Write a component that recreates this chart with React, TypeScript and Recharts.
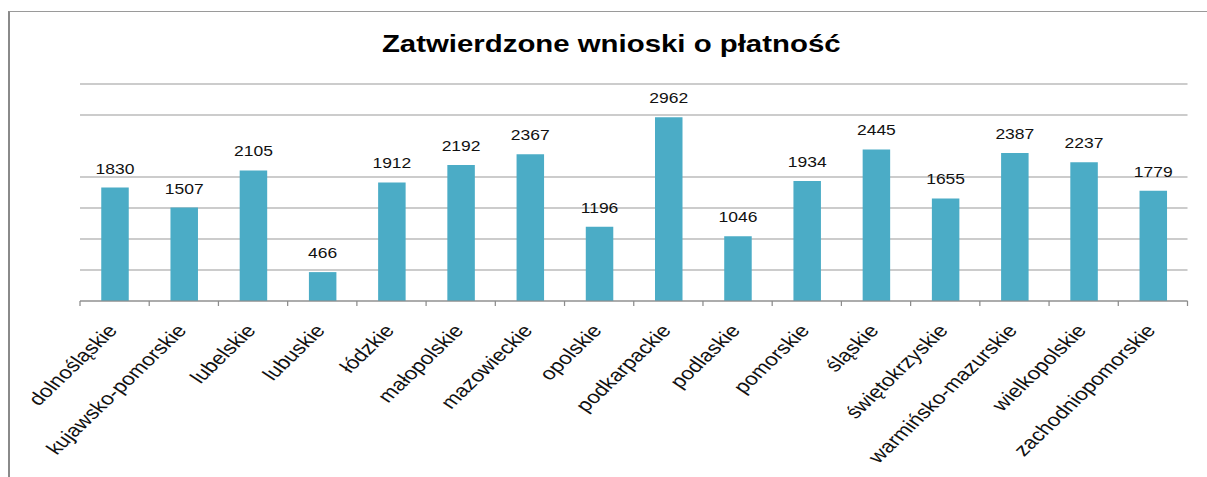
import React from 'react';
import { BarChart, Bar, XAxis, YAxis, CartesianGrid, LabelList } from 'recharts';

const REGIONS = [
  'dolnośląskie',
  'kujawsko-pomorskie',
  'lubelskie',
  'lubuskie',
  'łódzkie',
  'małopolskie',
  'mazowieckie',
  'opolskie',
  'podkarpackie',
  'podlaskie',
  'pomorskie',
  'śląskie',
  'świętokrzyskie',
  'warmińsko-mazurskie',
  'wielkopolskie',
  'zachodniopomorskie',
];

const APPROVED = [1830, 1507, 2105, 466, 1912, 2192, 2367, 1196, 2962, 1046, 1934, 2445, 1655, 2387, 2237, 1779];

// the 2500 line is missing in the source picture
const Y_TICKS = [0, 500, 1000, 1500, 2000, 3000, 3500];

const data = REGIONS.map((name, i) => ({ name, value: APPROVED[i] }));

// the source picture is stretched horizontally, so the chart is drawn narrow and scaled
const STRETCH = 1.25;
const W = 966;
const H = 477;
const M = { top: 84, right: 16, left: 64, bottom: 0 };
const HALF_BAND = (W - M.left - M.right) / REGIONS.length / 2;
const FONT = '"Liberation Sans", Arial, sans-serif';

const RegionTick = (props: any) => {
  const { x, y, payload, index } = props;
  const ax = x + 3;
  const ay = y + 30;
  return (
    <g>
      <line x1={x - HALF_BAND} y1={y} x2={x - HALF_BAND} y2={y + 5} stroke="#8c8c8c" />
      {index === REGIONS.length - 1 && (
        <line x1={x + HALF_BAND} y1={y} x2={x + HALF_BAND} y2={y + 5} stroke="#8c8c8c" />
      )}
      <text
        x={ax}
        y={ay}
        transform={`rotate(-50, ${ax}, ${ay})`}
        textAnchor="end"
        fontSize={18}
        fontFamily={FONT}
        fill="#111"
      >
        {payload.value}
      </text>
    </g>
  );
};

const App: React.FC = () => {
  return (
    <div>
      <div
        style={{
          position: 'fixed',
          left: 0,
          top: 0,
          width: W,
          height: H,
          transform: `scaleX(${STRETCH})`,
          transformOrigin: '0 0',
          background: '#fff',
        }}
      >
        <div
          style={{
            position: 'absolute',
            left: 0,
            top: 32,
            width: 978,
            textAlign: 'center',
            fontFamily: FONT,
            fontWeight: 'bold',
            fontSize: 23.5,
            lineHeight: '24px',
            color: '#000',
          }}
        >
          Zatwierdzone wnioski o płatność
        </div>
        <BarChart width={W} height={H} data={data} margin={M} barSize={22}>
          <CartesianGrid vertical={false} stroke="#999" />
          <YAxis hide domain={[0, 3500]} ticks={Y_TICKS} />
          <XAxis
            dataKey="name"
            interval={0}
            height={176}
            tickLine={false}
            tickSize={0}
            tickMargin={0}
            axisLine={{ stroke: '#8c8c8c' }}
            tick={<RegionTick />}
          />
          <Bar dataKey="value" fill="#4BACC6" isAnimationActive={false}>
            <LabelList
              dataKey="value"
              position="top"
              offset={14}
              fontSize={14}
              fontFamily={FONT}
              fill="#111"
            />
          </Bar>
        </BarChart>
      </div>
      <div
        style={{
          position: 'fixed',
          left: 8,
          top: 11,
          width: 1199,
          height: 466,
          borderLeft: '2px solid #8a8a8a',
          borderTop: '1px solid #9a9a9a',
          pointerEvents: 'none',
        }}
      />
    </div>
  );
};

export default App;
